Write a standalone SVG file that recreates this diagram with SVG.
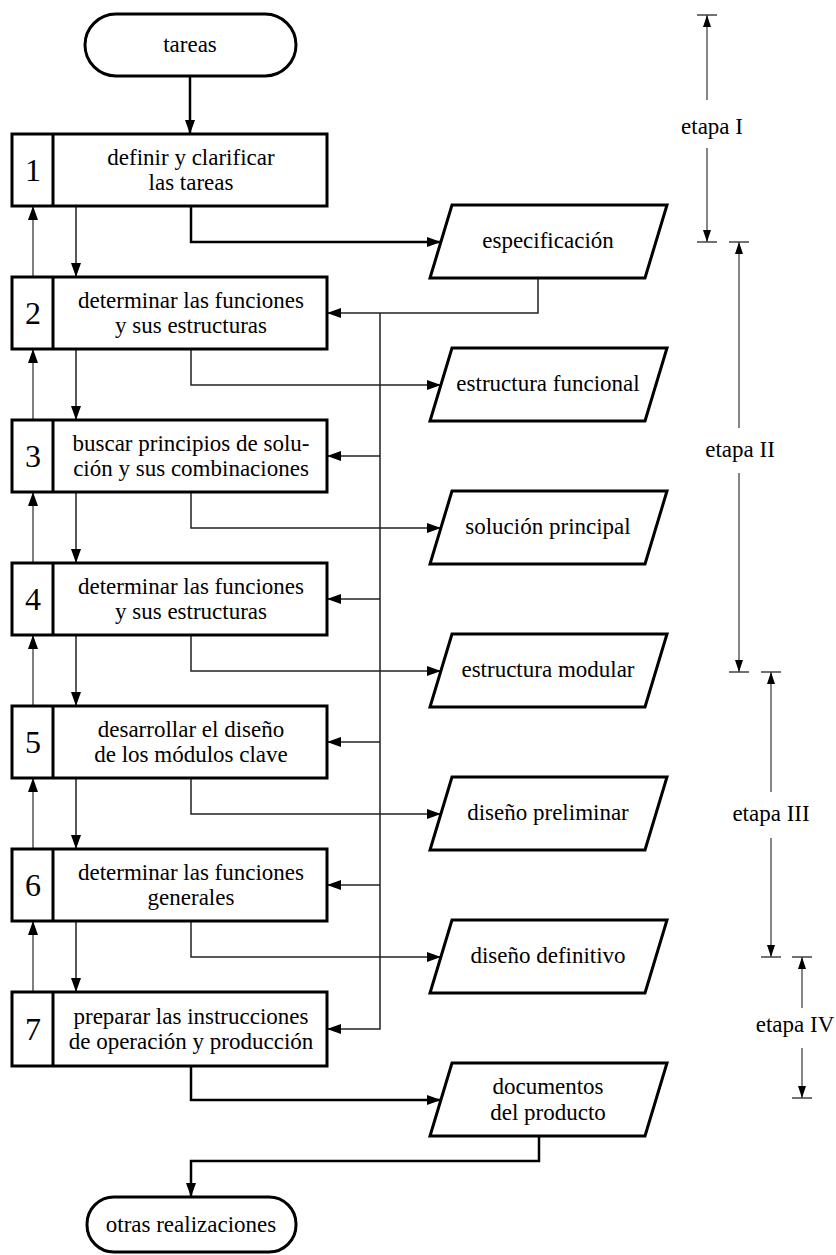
<svg xmlns="http://www.w3.org/2000/svg" width="836" height="1255" viewBox="0 0 836 1255">
<style>
.bx{fill:#fff;stroke:#000;stroke-width:3}
.t{font-family:"Liberation Serif","Times New Roman",serif;font-size:23px;fill:#000;text-anchor:middle}
.n{font-family:"Liberation Serif","Times New Roman",serif;font-size:32px;fill:#000;text-anchor:middle}
.c{fill:none;stroke:#222;stroke-width:1.5}
.ck{fill:none;stroke:#000;stroke-width:2.5}
.g{fill:none;stroke:#555;stroke-width:1.5}
.s{fill:none;stroke:#444;stroke-width:1.3}
</style>
<defs>
<marker id="ah" markerUnits="userSpaceOnUse" markerWidth="14" markerHeight="10" refX="14" refY="5" orient="auto">
<path d="M0,0 L14,5 L0,10 z" fill="#000"/>
</marker>
<marker id="ahs" markerUnits="userSpaceOnUse" markerWidth="12" markerHeight="8" refX="12" refY="4" orient="auto">
<path d="M0,0 L12,4 L0,8 z" fill="#000"/>
</marker>
</defs>
<rect width="836" height="1255" fill="#fff"/>

<g id="connectors">
<path class="ck" d="M190,76 V134" marker-end="url(#ah)"/>
<path class="ck" d="M191,206 V242 H441" marker-end="url(#ah)"/>
<path class="c" d="M191,349 V385 H441" marker-end="url(#ah)"/>
<path class="c" d="M191,492 V528 H441" marker-end="url(#ah)"/>
<path class="c" d="M191,635 V671 H441" marker-end="url(#ah)"/>
<path class="c" d="M191,778 V814 H441" marker-end="url(#ah)"/>
<path class="c" d="M191,921 V957 H441" marker-end="url(#ah)"/>
<path class="ck" d="M191,1066 V1100 H441" marker-end="url(#ah)"/>
<path class="ck" d="M539,1136 V1161 H191 V1197" marker-end="url(#ah)"/>
<path class="c" d="M538,278 V313 H327" marker-end="url(#ah)"/>
<path class="c" d="M380,313 V1029 H327" marker-end="url(#ah)"/>
<path class="c" d="M380,456 H327" marker-end="url(#ah)"/>
<path class="c" d="M380,599 H327" marker-end="url(#ah)"/>
<path class="c" d="M380,742 H327" marker-end="url(#ah)"/>
<path class="c" d="M380,885 H327" marker-end="url(#ah)"/>
<path class="g" d="M33,277 V206" marker-end="url(#ah)"/>
<path class="g" d="M33,420 V349" marker-end="url(#ah)"/>
<path class="g" d="M33,563 V492" marker-end="url(#ah)"/>
<path class="g" d="M33,706 V635" marker-end="url(#ah)"/>
<path class="g" d="M33,849 V778" marker-end="url(#ah)"/>
<path class="g" d="M33,992 V921" marker-end="url(#ah)"/>
<path class="c" d="M76,206 V277" marker-end="url(#ah)"/>
<path class="c" d="M76,349 V420" marker-end="url(#ah)"/>
<path class="c" d="M76,492 V563" marker-end="url(#ah)"/>
<path class="c" d="M76,635 V706" marker-end="url(#ah)"/>
<path class="c" d="M76,778 V849" marker-end="url(#ah)"/>
<path class="c" d="M76,921 V992" marker-end="url(#ah)"/>
</g>

<g id="start">
<rect class="bx" x="85" y="14" width="211" height="62" rx="31"/>
<text class="t" x="190" y="52">tareas</text>
</g>

<g id="step1">
<rect class="bx" x="12" y="134" width="315" height="72"/>
<line x1="53" y1="134" x2="53" y2="206" stroke="#000" stroke-width="3"/>
<text class="n" x="33" y="181">1</text>
<text class="t" x="191" y="165">definir y clarificar</text>
<text class="t" x="191" y="190">las tareas</text>
</g>
<g id="step2">
<rect class="bx" x="12" y="277" width="315" height="72"/>
<line x1="53" y1="277" x2="53" y2="349" stroke="#000" stroke-width="3"/>
<text class="n" x="33" y="324">2</text>
<text class="t" x="191" y="308">determinar las funciones</text>
<text class="t" x="191" y="333">y sus estructuras</text>
</g>
<g id="step3">
<rect class="bx" x="12" y="420" width="315" height="72"/>
<line x1="53" y1="420" x2="53" y2="492" stroke="#000" stroke-width="3"/>
<text class="n" x="33" y="467">3</text>
<text class="t" x="191" y="451">buscar principios de solu-</text>
<text class="t" x="191" y="476">ción y sus combinaciones</text>
</g>
<g id="step4">
<rect class="bx" x="12" y="563" width="315" height="72"/>
<line x1="53" y1="563" x2="53" y2="635" stroke="#000" stroke-width="3"/>
<text class="n" x="33" y="610">4</text>
<text class="t" x="191" y="594">determinar las funciones</text>
<text class="t" x="191" y="619">y sus estructuras</text>
</g>
<g id="step5">
<rect class="bx" x="12" y="706" width="315" height="72"/>
<line x1="53" y1="706" x2="53" y2="778" stroke="#000" stroke-width="3"/>
<text class="n" x="33" y="753">5</text>
<text class="t" x="191" y="737">desarrollar el diseño</text>
<text class="t" x="191" y="762">de los módulos clave</text>
</g>
<g id="step6">
<rect class="bx" x="12" y="849" width="315" height="72"/>
<line x1="53" y1="849" x2="53" y2="921" stroke="#000" stroke-width="3"/>
<text class="n" x="33" y="896">6</text>
<text class="t" x="191" y="880">determinar las funciones</text>
<text class="t" x="191" y="905">generales</text>
</g>
<g id="step7">
<rect class="bx" x="12" y="992" width="315" height="74"/>
<line x1="53" y1="992" x2="53" y2="1066" stroke="#000" stroke-width="3"/>
<text class="n" x="33" y="1040">7</text>
<text class="t" x="191" y="1024">preparar las instrucciones</text>
<text class="t" x="191" y="1049">de operación y producción</text>
</g>

<g id="out1">
<polygon class="bx" points="452,205 667,205 645,278 430,278"/>
<text class="t" x="548" y="248">especificación</text>
</g>
<g id="out2">
<polygon class="bx" points="452,348 667,348 645,421 430,421"/>
<text class="t" x="548" y="391">estructura funcional</text>
</g>
<g id="out3">
<polygon class="bx" points="452,491 667,491 645,564 430,564"/>
<text class="t" x="548" y="534">solución principal</text>
</g>
<g id="out4">
<polygon class="bx" points="452,634 667,634 645,707 430,707"/>
<text class="t" x="548" y="677">estructura modular</text>
</g>
<g id="out5">
<polygon class="bx" points="452,777 667,777 645,850 430,850"/>
<text class="t" x="548" y="820">diseño preliminar</text>
</g>
<g id="out6">
<polygon class="bx" points="452,920 667,920 645,993 430,993"/>
<text class="t" x="548" y="963">diseño definitivo</text>
</g>
<g id="out7">
<polygon class="bx" points="452,1063 667,1063 645,1136 430,1136"/>
<text class="t" x="548" y="1094">documentos</text>
<text class="t" x="548" y="1120">del producto</text>
</g>

<g id="end">
<rect class="bx" x="87" y="1197" width="209" height="55" rx="27"/>
<text class="t" x="191" y="1232">otras realizaciones</text>
</g>

<g id="stage1">
<path class="s" d="M697,15 H717 M697,242 H717"/>
<path class="s" d="M707,100 V15" marker-end="url(#ahs)"/>
<path class="s" d="M707,148 V242" marker-end="url(#ahs)"/>
<text class="t" x="712" y="134">etapa I</text>
</g>
<g id="stage2">
<path class="s" d="M729,242 H749 M729,672 H749"/>
<path class="s" d="M739,428 V242" marker-end="url(#ahs)"/>
<path class="s" d="M739,473 V672" marker-end="url(#ahs)"/>
<text class="t" x="740" y="457">etapa II</text>
</g>
<g id="stage3">
<path class="s" d="M761,672 H781 M761,957 H781"/>
<path class="s" d="M771,792 V672" marker-end="url(#ahs)"/>
<path class="s" d="M771,838 V957" marker-end="url(#ahs)"/>
<text class="t" x="771" y="821">etapa III</text>
</g>
<g id="stage4">
<path class="s" d="M792,957 H812 M792,1098 H812"/>
<path class="s" d="M802,1008 V957" marker-end="url(#ahs)"/>
<path class="s" d="M802,1048 V1098" marker-end="url(#ahs)"/>
<text class="t" x="795" y="1032">etapa IV</text>
</g>
</svg>
